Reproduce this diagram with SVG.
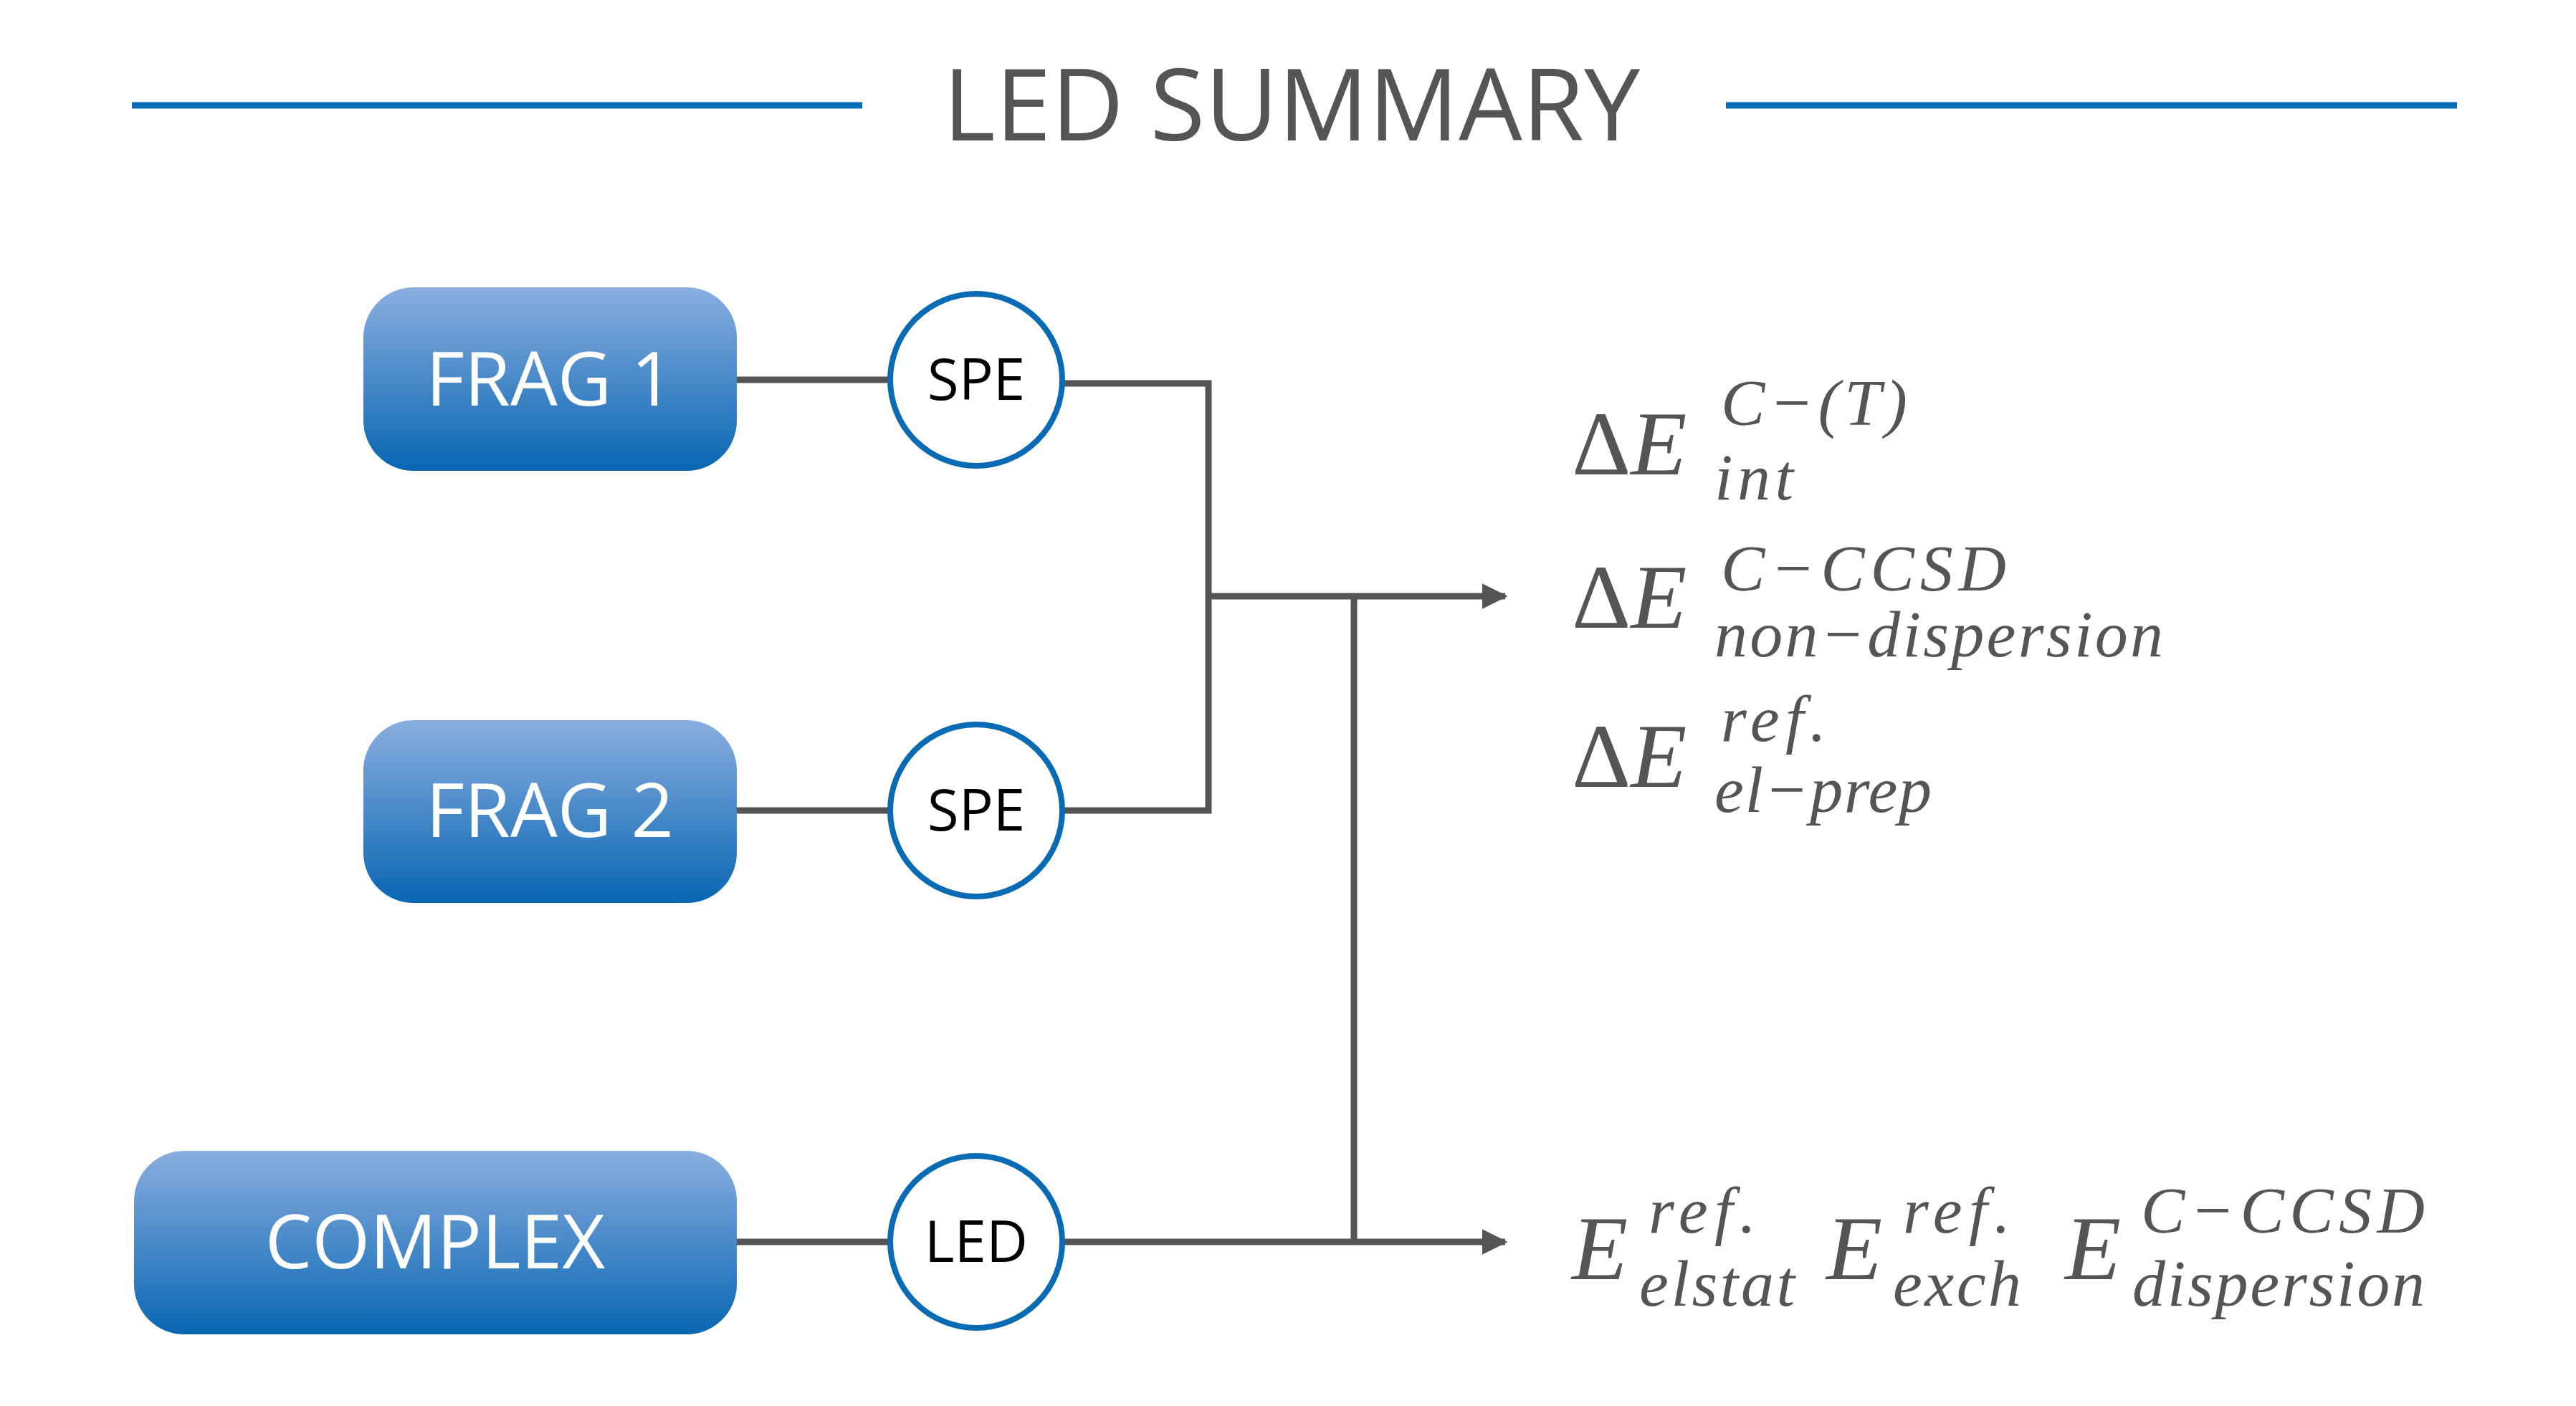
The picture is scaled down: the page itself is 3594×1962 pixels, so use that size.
<svg xmlns="http://www.w3.org/2000/svg" width="3594" height="1962" viewBox="0 0 3594 1962">
<defs>
<linearGradient id="g" x1="0" y1="0" x2="0" y2="1"><stop offset="0" stop-color="#8aaee0"/><stop offset="1" stop-color="#0866b2"/></linearGradient>
<marker id="ah" viewBox="0 0 10 10" refX="9" refY="5" markerWidth="4" markerHeight="4" orient="auto" markerUnits="strokeWidth"><path d="M0,0 L10,5 L0,10 Z" fill="#555"/></marker>
<style>
.box{fill:url(#g)}
.bt{font-family:"Open Sans","Liberation Sans",sans-serif;font-size:104px;fill:#fff;text-anchor:middle}
.cir{fill:#fff;stroke:#0a6bb5;stroke-width:8}
.ct{font-family:"Open Sans","Liberation Sans",sans-serif;font-size:80px;fill:#000;text-anchor:middle}
.ln{fill:none;stroke:#555;stroke-width:9}
.m{font-family:"Liberation Serif",serif;font-style:italic;fill:#555}
.big{font-size:128px}
.sm{font-size:92px}
</style>
</defs>
<rect width="3594" height="1962" fill="#fff"/>
<g id="title">
<line x1="184" y1="147" x2="1203" y2="147" stroke="#0a6bb5" stroke-width="9"/>
<line x1="2408" y1="147" x2="3428" y2="147" stroke="#0a6bb5" stroke-width="9"/>
<text x="1802" y="196" text-anchor="middle" font-family="Open Sans, Liberation Sans, sans-serif" font-size="140" fill="#555">LED SUMMARY</text>
</g>
<g id="connectors">
<line class="ln" x1="1028" y1="530" x2="1242" y2="530"/>
<line class="ln" x1="1028" y1="1131" x2="1242" y2="1131"/>
<line class="ln" x1="1028" y1="1733" x2="1242" y2="1733"/>
<polyline class="ln" points="1482,535 1686,535 1686,1131 1482,1131"/>
<line class="ln" x1="1686" y1="832" x2="2100" y2="832" marker-end="url(#ah)"/>
<line class="ln" x1="1889" y1="832" x2="1889" y2="1733"/>
<line class="ln" x1="1482" y1="1733" x2="2100" y2="1733" marker-end="url(#ah)"/>
</g>
<g id="frag1"><rect class="box" x="507" y="401" width="521" height="256" rx="70"/><text class="bt" x="767" y="566">FRAG 1</text></g>
<g id="frag2"><rect class="box" x="507" y="1005" width="521" height="255" rx="70"/><text class="bt" x="767" y="1168">FRAG 2</text></g>
<g id="complex"><rect class="box" x="187" y="1606" width="841" height="256" rx="70"/><text class="bt" x="607" y="1770">COMPLEX</text></g>
<g id="spe1"><circle class="cir" cx="1362" cy="530" r="120"/><text class="ct" x="1362" y="558">SPE</text></g>
<g id="spe2"><circle class="cir" cx="1362" cy="1131" r="120"/><text class="ct" x="1362" y="1159">SPE</text></g>
<g id="led"><circle class="cir" cx="1362" cy="1733" r="120"/><text class="ct" x="1362" y="1761">LED</text></g>
<g id="eq1" class="m"><text class="big" x="2193" y="662"><tspan font-style="normal">Δ</tspan>E</text><text class="sm" x="2401" y="593" textLength="260">C−(T)</text><text class="sm" x="2392" y="697" textLength="110">int</text></g>
<g id="eq2" class="m"><text class="big" x="2193" y="876"><tspan font-style="normal">Δ</tspan>E</text><text class="sm" x="2401" y="824" textLength="398">C−CCSD</text><text class="sm" x="2392" y="916" textLength="626">non−dispersion</text></g>
<g id="eq3" class="m"><text class="big" x="2193" y="1098"><tspan font-style="normal">Δ</tspan>E</text><text class="sm" x="2401" y="1034" textLength="147">ref.</text><text class="sm" x="2392" y="1133" textLength="303">el−prep</text></g>
<g id="eq4" class="m">
<text class="big" x="2193" y="1785">E</text><text class="sm" x="2300" y="1720" textLength="150">ref.</text><text class="sm" x="2287" y="1822" textLength="217">elstat</text>
<text class="big" x="2548" y="1785">E</text><text class="sm" x="2655" y="1720" textLength="150">ref.</text><text class="sm" x="2641" y="1822" textLength="179">exch</text>
<text class="big" x="2881" y="1785">E</text><text class="sm" x="2987" y="1720" textLength="396">C−CCSD</text><text class="sm" x="2975" y="1822" textLength="408">dispersion</text>
</g>
</svg>
